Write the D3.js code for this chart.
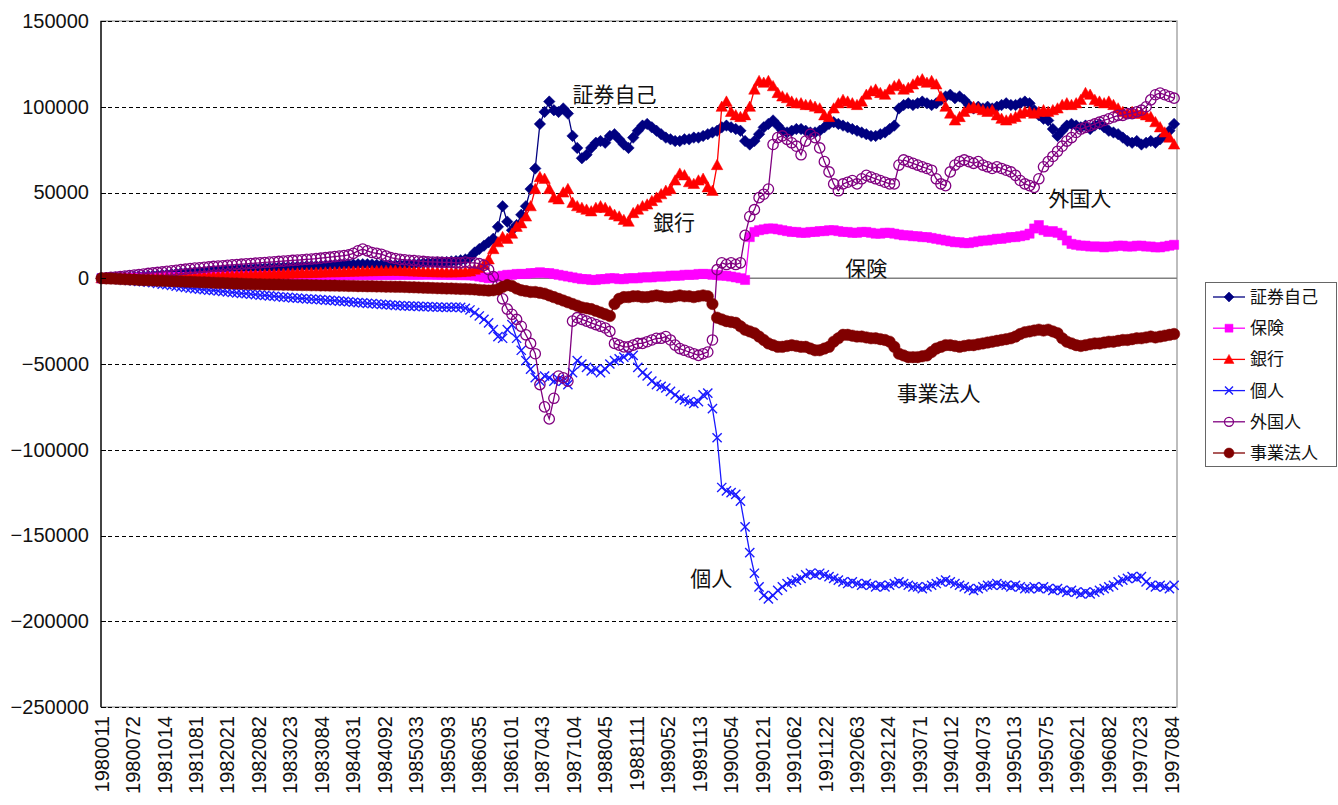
<!DOCTYPE html>
<html><head><meta charset="utf-8">
<script src="https://cdn.jsdelivr.net/npm/d3@7"></script>
<style>body{margin:0;background:#fff;}svg{display:block;}</style>
</head><body><svg id="chart" width="1338" height="805"></svg>
<script>
// ---- data (weekly categories; series read every 4th week) ----
const N_WEEKS = 923;
const SAMPLE_STEP = 4;
const TICK_STEP = 27;
const tickLabels = ["1980011","1980072","1981014","1981081","1982021","1982082","1983023","1983084","1984031","1984092","1985033","1985093","1986035","1986101","1987043","1987104","1988045","1988111","1989052","1989113","1990054","1990121","1991062","1991122","1992063","1992124","1993071","1994012","1994073","1995013","1995075","1996021","1996082","1997023","1997084"];
const yTickValues = [-250000,-200000,-150000,-100000,-50000,0,50000,100000,150000];
const seriesNames = ["証券自己","保険","銀行","個人","外国人","事業法人"];

const securities = [0,0,200,400,500,700,800,1000,1100,1300,1400,1600,1800,2000,2200,2500,2700,3000,3200,3400,3600,3800,4000,4200,4400,4500,4700,4900,5000,5200,5300,5500,5600,5800,5900,6000,6100,6300,6400,6500,6600,6700,6800,7000,7100,7200,7200,7300,7400,7500,7500,7600,7800,7900,8000,8100,8200,8200,8000,7800,7700,7600,7600,7700,7800,8000,8100,8300,8500,8700,8900,9000,9200,9300,9500,9800,10000,10500,11000,12000,15000,17000,19000,21000,23000,30000,42000,33000,28000,31000,37000,42000,52000,64000,90000,97000,103000,98000,97000,99000,96000,83000,76000,70000,72000,76000,79000,80000,79000,83000,84000,81000,78000,76000,82000,86000,89000,90000,88000,86000,84000,82000,81000,80000,80000,81000,81000,82000,82000,83000,84000,85000,86000,88000,89000,88000,87000,86000,80000,78000,80000,84000,88000,90000,92000,89000,86000,85000,86000,87000,87000,86000,85000,85000,86000,88000,90000,91000,90000,89000,88000,87000,86000,85000,84000,83000,83000,84000,85000,87000,89000,99000,101000,102000,101000,102000,103000,102000,101000,102000,104000,106000,107000,105000,106000,104000,101000,99000,100000,99000,100000,99000,100000,101000,102000,101000,101000,102000,103000,102000,98000,95000,93000,92000,87000,83000,86000,89000,90000,89000,88000,89000,87000,89000,90000,88000,86000,85000,84000,82000,80000,79000,80000,78000,79000,80000,79000,81000,83000,86000,90000];
const insurance = [0,0,0,100,100,200,200,300,300,300,400,400,400,500,500,500,600,600,600,700,700,700,800,800,800,900,900,900,1000,1000,1000,1100,1100,1100,1200,1200,1200,1300,1300,1300,1400,1400,1400,1500,1500,1500,1500,1600,1600,1600,1600,1700,1700,1700,1700,1800,1800,1800,1800,1800,1900,1900,1900,1900,2000,2000,2000,2000,2000,2100,2100,2100,2000,2000,2000,1900,1900,1800,1800,1700,1500,1000,500,0,500,1000,1500,2000,2000,2500,2500,2500,3000,3000,3500,3000,3000,2500,2000,1500,1000,500,0,-500,-500,-1000,-1000,-500,-500,0,0,-500,-500,0,0,0,500,500,500,1000,1000,1000,1500,1500,1500,2000,2000,2000,2500,2500,2500,2000,2000,1500,1500,1000,500,0,-1000,24000,27000,28000,28500,29000,29000,28500,28000,27500,27000,27000,26500,26500,27000,27000,27500,27500,28000,28000,27500,27000,27000,26500,26500,27000,27000,26500,26000,26000,26500,26500,26000,25500,25000,25000,24500,24500,24000,24000,23500,23000,22500,22000,21500,21000,21000,20500,20500,21000,21500,22000,22000,22500,23000,23000,23500,24000,24000,24500,25000,26000,29000,31000,28000,27000,27500,26500,25000,22000,20000,19500,19000,19000,18500,18500,18500,18000,18500,18500,19000,19000,18500,18500,19000,19000,18500,18500,18000,18000,18500,19000,19500];
const banks = [0,0,0,0,100,100,200,200,300,300,400,400,500,500,600,600,700,700,800,800,900,900,1000,1000,1100,1200,1300,1400,1500,1600,1700,1800,1900,2000,2100,2200,2300,2400,2500,2600,2700,2800,2900,3000,3000,3100,3200,3300,3400,3500,3500,3600,3700,3800,3900,4000,4000,4100,4200,4200,4300,4300,4400,4400,4300,4200,4100,4000,3900,3800,3700,3600,3500,3500,3400,3400,3500,3600,3800,4000,5000,6000,8000,11000,17000,21000,24000,23000,26000,30000,32000,36000,42000,52000,59000,58000,52000,47000,46000,50000,52000,44000,42000,41000,40000,39000,41000,42000,41000,39000,37000,36000,34000,33000,38000,40000,42000,43000,45000,47000,49000,51000,52000,57000,61000,60000,56000,55000,57000,58000,53000,51000,66000,100000,103000,97000,95000,94000,95000,100000,110000,115000,114000,115000,112000,108000,106000,105000,103000,102000,102000,101000,101000,100000,99000,95000,94000,99000,102000,104000,103000,102000,101000,103000,107000,109000,110000,108000,107000,110000,112000,113000,110000,111000,113000,115000,116000,114000,115000,113000,106000,100000,96000,92000,94000,97000,99000,100000,99000,98000,97000,98000,95000,93000,92000,93000,94000,96000,97000,97000,96000,97000,98000,97000,98000,99000,101000,102000,101000,102000,104000,108000,107000,104000,103000,102000,103000,101000,99000,97000,96000,97000,96000,96000,95000,94000,91000,88000,85000,82000,78000];
const individuals = [0,-200,-400,-600,-800,-1000,-1200,-1500,-1800,-2000,-2300,-2600,-3000,-3400,-3800,-4200,-4600,-5000,-5400,-5800,-6000,-6300,-6600,-6900,-7100,-7400,-7700,-8000,-8200,-8500,-8800,-9000,-9300,-9500,-9800,-10000,-10300,-10500,-10800,-11000,-11200,-11400,-11600,-11800,-12000,-12200,-12300,-12500,-12700,-12900,-13100,-13300,-13500,-13700,-14000,-14200,-14400,-14600,-14800,-15000,-15200,-15400,-15600,-15800,-16000,-16100,-16200,-16300,-16400,-16500,-16600,-16700,-16800,-16900,-17000,-17000,-16800,-17000,-17500,-18500,-20000,-22000,-24000,-26000,-30000,-34000,-35000,-30000,-27000,-35000,-42000,-48000,-53000,-58000,-60000,-57000,-58000,-60000,-59000,-60000,-62000,-55000,-48000,-50000,-52000,-54000,-53000,-55000,-53000,-50000,-48000,-47000,-46000,-44000,-45000,-52000,-55000,-57000,-60000,-62000,-63000,-64000,-66000,-68000,-70000,-71000,-72000,-73000,-72000,-68000,-67000,-76000,-93000,-122000,-124000,-125000,-126000,-130000,-145000,-160000,-172000,-180000,-185000,-187000,-185000,-182000,-180000,-178000,-177000,-176000,-175000,-173000,-172000,-173000,-172000,-173000,-174000,-175000,-176000,-177000,-178000,-177000,-178000,-179000,-178000,-179000,-180000,-179000,-180000,-179000,-178000,-177000,-178000,-179000,-180000,-180000,-181000,-180000,-179000,-178000,-177000,-176000,-177000,-178000,-179000,-180000,-181000,-182000,-181000,-180000,-179000,-179000,-178000,-179000,-179000,-180000,-179000,-180000,-181000,-181000,-180000,-181000,-180000,-181000,-182000,-181000,-182000,-183000,-182000,-183000,-184000,-183000,-184000,-183000,-182000,-181000,-180000,-179000,-177000,-176000,-175000,-174000,-175000,-174000,-177000,-179000,-180000,-179000,-180000,-181000,-179000];
const foreigners = [0,200,500,700,1000,1300,1600,1900,2200,2500,2800,3100,3400,3700,4000,4300,4600,5000,5300,5600,5900,6100,6400,6600,6900,7100,7300,7600,7800,8000,8200,8400,8600,8800,9000,9200,9400,9600,9800,10000,10200,10400,10600,10800,11000,11200,11400,11700,12000,12300,12600,12900,13200,13600,14500,16000,17000,16000,15000,14500,14000,13000,12000,11500,11000,10800,10500,10300,10000,9800,9600,9500,9400,9300,9200,9200,9000,9000,9500,9000,9000,8500,7500,5000,1000,-4000,-12000,-18000,-21000,-24000,-28000,-33000,-38000,-44000,-62000,-75000,-82000,-70000,-57000,-58000,-60000,-25000,-23000,-24000,-25000,-26000,-27000,-28000,-29000,-31000,-38000,-39000,-40000,-40000,-39000,-38000,-38000,-37000,-36000,-35000,-35000,-34000,-36000,-39000,-41000,-42000,-43000,-44000,-45000,-44000,-43000,-36000,5000,9000,8000,9000,8000,9000,25000,36000,40000,47000,49000,52000,78000,82000,83000,81000,79000,77000,72000,80000,84000,82000,76000,68000,62000,55000,51000,55000,56000,57000,55000,58000,60000,59000,58000,57000,56000,55000,55000,66000,69000,68000,67000,66000,65000,64000,63000,58000,55000,54000,62000,66000,68000,69000,68000,67000,68000,66000,65000,64000,65000,64000,63000,62000,60000,57000,55000,54000,53000,58000,65000,68000,71000,74000,77000,80000,82000,85000,87000,88000,89000,90000,91000,92000,93000,94000,95000,95000,96000,96000,97000,98000,100000,104000,107000,108000,107000,106000,105000];
const corporations = [0,-100,-200,-300,-500,-600,-700,-800,-1000,-1100,-1200,-1300,-1400,-1500,-1600,-1700,-1800,-1900,-2000,-2100,-2200,-2300,-2400,-2500,-2600,-2700,-2800,-2900,-3000,-3100,-3200,-3300,-3400,-3500,-3500,-3600,-3600,-3700,-3700,-3800,-3800,-3900,-3900,-4000,-4000,-4100,-4100,-4200,-4200,-4300,-4300,-4400,-4400,-4500,-4500,-4600,-4600,-4700,-4700,-4800,-4800,-4900,-4900,-5000,-5000,-5100,-5200,-5300,-5400,-5500,-5600,-5700,-5800,-5900,-6000,-6000,-6100,-6200,-6300,-6400,-6500,-6800,-7000,-7200,-7000,-6500,-5000,-4000,-4500,-6000,-7000,-7500,-8000,-8000,-8500,-9000,-10000,-11000,-12000,-13000,-14000,-15000,-16000,-17000,-17500,-18000,-19000,-20000,-21000,-22000,-15000,-12000,-11000,-11000,-10500,-10500,-11000,-11000,-10500,-10000,-10500,-11000,-11000,-10500,-10000,-10500,-10500,-11000,-10500,-10000,-10500,-15000,-23000,-24000,-25000,-25500,-26000,-28000,-30000,-31000,-32000,-34000,-36000,-38000,-39000,-40000,-40000,-39500,-39000,-39500,-40000,-40000,-41000,-42000,-42000,-41000,-40000,-37000,-35000,-33000,-33000,-33500,-34000,-34000,-34500,-35000,-35000,-35500,-36000,-37000,-40000,-44000,-45000,-46000,-46000,-46000,-45500,-45000,-43000,-41000,-40000,-39000,-39000,-39500,-40000,-39500,-39000,-39000,-38500,-38000,-37500,-37000,-36500,-36000,-35500,-35000,-34000,-32500,-31500,-31000,-30500,-30000,-30500,-30000,-31000,-32000,-35000,-37000,-38000,-39000,-39500,-39000,-38500,-38000,-38000,-37500,-37000,-37000,-36500,-36000,-36000,-35500,-35000,-35000,-34500,-34000,-34500,-34000,-33500,-33000,-32500];

const seriesValues = [securities, insurance, banks, individuals, foreigners, corporations];
const seriesColors = ["#000080","#ff00ff","#ff0000","#1a1aff","#800080","#800000"];
const seriesMarkers = ["diamond","square","triangle","cross","ring","dot"];
const annotations = [
  {text:"証券自己", week:404, value:102500},
  {text:"銀行", week:473, value:28000},
  {text:"保険", week:638, value:1500},
  {text:"外国人", week:812, value:42000},
  {text:"事業法人", week:682, value:-71500},
  {text:"個人", week:505, value:-179500}
];

// ---- drawing ----
const svg = d3.select("#chart");
const PL = 101, PR = 1177, PT = 21, PB = 707;
const x = d3.scaleBand().domain(d3.range(N_WEEKS)).range([PL, PR]);
const cx = i => x(i) + x.bandwidth() / 2;
const y = d3.scaleLinear().domain([-250000, 150000]).range([PB, PT]);
const NUM_FONT = "'Liberation Sans', Arial, sans-serif";
const JP_FONT = "'Noto Sans CJK JP', sans-serif";

svg.append("rect").attr("width",1338).attr("height",805).attr("fill","#fff");

// plot border
svg.append("rect").attr("x",PL).attr("y",PT).attr("width",PR-PL).attr("height",PB-PT)
  .attr("fill","none").attr("stroke","#9a9a9a").attr("stroke-width",1.3);

// gridlines
svg.append("g").selectAll("line").data(yTickValues.filter(v => v !== 0)).join("line")
  .attr("x1",PL).attr("x2",PR).attr("y1",d=>Math.round(y(d))+0.5).attr("y2",d=>Math.round(y(d))+0.5)
  .attr("stroke","#000").attr("stroke-width",1).attr("stroke-dasharray","4,3");

// category axis at zero
svg.append("line").attr("x1",PL).attr("x2",PR).attr("y1",y(0)).attr("y2",y(0))
  .attr("stroke","#808080").attr("stroke-width",1.6);

// marker shapes (scale k: 1 in legend, larger in plot to mimic dense weekly markers)
function markerPath(type, k){
  switch(type){
    case "diamond": return `M0,${-5*k}L${5*k},0L0,${5*k}L${-5*k},0Z`;
    case "square": return `M${-4*k},${-4*k}H${4*k}V${4*k}H${-4*k}Z`;
    case "triangle": return `M0,${-5*k}L${5*k},${4*k}L${-5*k},${4*k}Z`;
    case "cross": return `M${-4*k},${-4*k}L${4*k},${4*k}M${-4*k},${4*k}L${4*k},${-4*k}`;
    case "ring": return d3.symbol(d3.symbolCircle, Math.PI*Math.pow(4.5*k,2))();
    case "dot": return d3.symbol(d3.symbolCircle, Math.PI*Math.pow(5*k,2))();
  }
}
function styleMarker(sel, type, color){
  if (type === "cross") sel.attr("fill","none").attr("stroke",color).attr("stroke-width",1.4);
  else if (type === "ring") sel.attr("fill","none").attr("stroke",color).attr("stroke-width",1.3);
  else sel.attr("fill",color).attr("stroke",color).attr("stroke-width",0.5);
}

const line = d3.line().x(d => cx(d.week)).y(d => y(d.value));
seriesValues.forEach((vals, s) => {
  const pts = vals.map((v, k) => ({week: k * SAMPLE_STEP, value: v}));
  const g = svg.append("g");
  g.append("path").datum(pts).attr("d", line).attr("fill","none")
    .attr("stroke", seriesColors[s]).attr("stroke-width", 1.3);
  const m = g.selectAll("path.m").data(pts).join("path").attr("class","m")
    .attr("transform", d => `translate(${cx(d.week)},${y(d.value)})`)
    .attr("d", markerPath(seriesMarkers[s], 1.15));
  styleMarker(m, seriesMarkers[s], seriesColors[s]);
});

// value axis
const yAxis = d3.axisLeft(y).tickValues(yTickValues).tickSize(0).tickPadding(12).tickFormat(d3.format("d"));
const ya = svg.append("g").attr("transform",`translate(${PL},0)`).call(yAxis);
ya.select(".domain").remove();
ya.selectAll("text").attr("font-family",NUM_FONT).attr("font-size",20).attr("fill","#111");
svg.append("g").selectAll("line").data(yTickValues).join("line")
  .attr("x1",PL).attr("x2",PL+5).attr("y1",d=>Math.round(y(d))+0.5).attr("y2",d=>Math.round(y(d))+0.5)
  .attr("stroke","#000");
svg.append("line").attr("x1",PL).attr("x2",PL).attr("y1",PT).attr("y2",PB)
  .attr("stroke","#000").attr("stroke-width",1.3);

// category labels
svg.append("g").selectAll("text").data(tickLabels).join("text")
  .attr("transform",(d,j) => `translate(${cx(j*TICK_STEP)+7},716) rotate(-90)`)
  .attr("text-anchor","end").attr("font-family",NUM_FONT).attr("font-size",20).attr("fill","#111")
  .text(d => d);

// annotations
svg.append("g").selectAll("text").data(annotations).join("text")
  .attr("x", d => cx(d.week)).attr("y", d => y(d.value))
  .attr("font-family",JP_FONT).attr("font-size",21).attr("fill","#111")
  .text(d => d.text);

// legend
const lg = svg.append("g");
lg.append("rect").attr("x",1205.5).attr("y",282.5).attr("width",131).attr("height",184)
  .attr("fill","#fff").attr("stroke","#666").attr("stroke-width",1);
seriesNames.forEach((name, s) => {
  const yy = 297 + s * 31.2;
  lg.append("line").attr("x1",1213).attr("x2",1245).attr("y1",yy).attr("y2",yy)
    .attr("stroke",seriesColors[s]).attr("stroke-width",1.3);
  const m = lg.append("path").attr("transform",`translate(1229,${yy})`).attr("d",markerPath(seriesMarkers[s], 1));
  styleMarker(m, seriesMarkers[s], seriesColors[s]);
  lg.append("text").attr("x",1250).attr("y",yy+6).attr("font-family",JP_FONT)
    .attr("font-size",17).attr("fill","#111").text(name);
});
</script></body></html>
